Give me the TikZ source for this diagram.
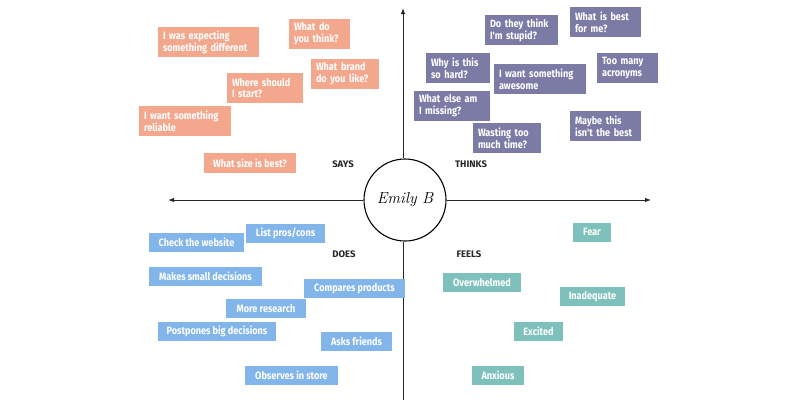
\documentclass[tikz,border=0pt]{standalone}
\usepackage{fontspec}
\usetikzlibrary{arrows.meta}
\newfontfamily\cardfont[FakeStretch=0.86]{Fira Sans}
\newfontfamily\labfont{Fira Sans}
\definecolor{saysc}{HTML}{F3A88E}
\definecolor{thinksc}{HTML}{7C7BA5}
\definecolor{doesc}{HTML}{82B5EA}
\definecolor{feelsc}{HTML}{7EC0BB}
\tikzset{
  card/.style={text=white, inner sep=0pt, font=\cardfont\bfseries\fontsize{10.6}{11.8}\selectfont},
  says/.style={card, fill=saysc},
  thinks/.style={card, fill=thinksc},
  does/.style={card, fill=doesc},
  feels/.style={card, fill=feelsc},
  quad/.style={font=\labfont\bfseries\fontsize{9.5}{11}\selectfont, text=black!85},
  axis/.style={line width=1pt, black!85},
  tipped/.style={axis, -{Latex[length=6pt,width=4.5pt]}}
}
% one-line card: style, name, center, width, height, text
\newcommand\onecard[6]{\node[#1, minimum width=#4pt, minimum height=#5pt, align=center] (#2) at (#3) {#6};}
% two-line card (left aligned)
\newcommand\twocard[6]{\pgfmathsetlengthmacro\cardtw{#4pt-10pt}%
  \node[#1, minimum width=#4pt, minimum height=#5pt, text width=\cardtw, align=left] (#2) at (#3) {#6};}
\begin{document}
\begin{tikzpicture}[x=1pt,y=-1pt]
\useasboundingbox[fill=white] (0,0) rectangle (800,400);
% axes
\node[draw, line width=1.1pt, circle, minimum size=82pt, inner sep=0pt, fill=white,
      font=\itshape\fontsize{16}{18}\selectfont] (c) at (405,200) {Emily B};
\coordinate (top) at (403,8);
\coordinate (bot) at (403,400);
\coordinate (lft) at (168,200);
\coordinate (rgt) at (651,200);
\draw[tipped] (c.north -| top) -- (top);
\draw[axis] (c.south -| bot) -- (bot);
\draw[tipped] (c.west) -- (lft);
\draw[tipped] (c.east) -- (rgt);
% quadrant labels
\node[quad] (lsays) at (343,164) {SAYS};
\node[quad] (lthinks) at (471,164) {THINKS};
\node[quad] (ldoes) at (344,254) {DOES};
\node[quad] (lfeels) at (469,254) {FEELS};
% says
\twocard{says}{s1}{208.5,42}{101}{30}{I was expecting\\something different}
\twocard{says}{s2}{319.5,34}{61}{30}{What do\\you think?}
\twocard{says}{s3}{345,74}{68}{30}{What brand\\do you like?}
\twocard{says}{s4}{265,88}{76}{30}{Where should\\I start?}
\twocard{says}{s5}{185,121}{92}{30}{I want something\\reliable}
\onecard{says}{s6}{250,163}{92}{20}{What size is best?}
% thinks
\twocard{thinks}{t1}{521.5,30}{73}{30}{Do they think\\I'm stupid?}
\twocard{thinks}{t2}{605.5,22}{71}{30}{What is best\\for me?}
\twocard{thinks}{t3}{458,68}{64}{30}{Why is this\\so hard?}
\twocard{thinks}{t4}{540,79}{92}{30}{I want something\\awesome}
\twocard{thinks}{t5}{627.5,68}{61}{30}{Too many\\acronyms}
\twocard{thinks}{t6}{452,106}{76}{30}{What else am\\I missing?}
\twocard{thinks}{t7}{507,138}{68}{30}{Wasting too\\much time?}
\twocard{thinks}{t8}{605.5,126}{71}{30}{Maybe this\\isn't the best}
% does
\onecard{does}{d1}{196.5,242.5}{95}{19}{Check the website}
\onecard{does}{d2}{285.5,233.5}{79}{19}{List pros/cons}
\onecard{does}{d3}{205.5,276}{113}{19}{Makes small decisions}
\onecard{does}{d4}{354.5,288.5}{101}{19}{Compares products}
\onecard{does}{d5}{266,308.5}{80}{19}{More research}
\onecard{does}{d6}{217,331}{118}{19}{Postpones big decisions}
\onecard{does}{d7}{356.5,341.5}{71}{19}{Asks friends}
\onecard{does}{d8}{291.5,375.5}{93}{19}{Observes in store}
% feels
\onecard{feels}{f1}{592,232}{38}{19}{Fear}
\onecard{feels}{f2}{482,282.5}{78}{19}{Overwhelmed}
\onecard{feels}{f3}{592.5,296.5}{65}{19}{Inadequate}
\onecard{feels}{f4}{538.5,331}{49}{19}{Excited}
\onecard{feels}{f5}{498,375.5}{52}{19}{Anxious}
\end{tikzpicture}
\end{document}
